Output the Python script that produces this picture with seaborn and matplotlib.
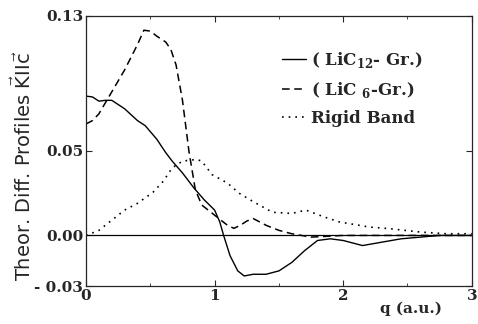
import numpy as np
import pandas as pd
import matplotlib
matplotlib.use('Agg')
import matplotlib.pyplot as plt
import seaborn as sns
from matplotlib.ticker import MultipleLocator

# values
q_lic12 = [0.0, 0.05, 0.1, 0.15, 0.2, 0.3, 0.4, 0.46, 0.55, 0.62, 0.67, 0.75, 0.84, 0.92, 1.0, 1.04, 1.07,
           1.12, 1.18, 1.23, 1.3, 1.4, 1.5, 1.6, 1.7, 1.8, 1.9, 2.0, 2.15, 2.3, 2.45, 2.6, 2.75, 3.0]
y_lic12 = [0.0825, 0.082, 0.0795, 0.080, 0.080, 0.075, 0.068, 0.065, 0.057, 0.049, 0.044, 0.037, 0.028,
           0.021, 0.015, 0.008, 0.0, -0.012, -0.021, -0.024, -0.023, -0.023, -0.021, -0.016, -0.009,
           -0.003, -0.002, -0.003, -0.006, -0.004, -0.002, -0.001, 0.0, 0.0]

q_lic6 = [0.0, 0.05, 0.1, 0.2, 0.3, 0.4, 0.45, 0.5, 0.55, 0.62, 0.66, 0.7, 0.75, 0.8, 0.85, 0.9,
          1.0, 1.1, 1.15, 1.2, 1.25, 1.3, 1.4, 1.5, 1.6, 1.75, 2.0, 2.5, 3.0]
y_lic6 = [0.066, 0.068, 0.072, 0.085, 0.098, 0.113, 0.1215, 0.121, 0.118, 0.1145, 0.110, 0.101,
          0.080, 0.050, 0.027, 0.018, 0.012, 0.006, 0.0042, 0.006, 0.0085, 0.010, 0.006, 0.003,
          0.001, -0.001, 0.0, 0.0, 0.0]

q_rigid = [0.0, 0.1, 0.2, 0.3, 0.4, 0.52, 0.6, 0.67, 0.75, 0.86, 0.9, 0.98, 1.1, 1.19, 1.3, 1.45,
           1.6, 1.71, 1.85, 1.97, 2.2, 2.36, 2.6, 2.8, 3.0]
y_rigid = [0.0, 0.003, 0.009, 0.015, 0.019, 0.0255, 0.032, 0.040, 0.044, 0.045, 0.044, 0.036,
           0.031, 0.025, 0.020, 0.0137, 0.013, 0.015, 0.011, 0.008, 0.005, 0.004, 0.002, 0.001, 0.001]

sns.set_style('ticks')
plt.rcParams['mathtext.fontset'] = 'custom'
plt.rcParams['mathtext.rm'] = 'DejaVu Serif'
plt.rcParams['mathtext.bf'] = 'DejaVu Serif:bold'
plt.rcParams['mathtext.sf'] = 'DejaVu Sans'

fig = plt.figure(figsize=(4.78, 3.24), dpi=100)
ax = fig.add_axes([0.18, 0.117, 0.807, 0.834])

ax.axhline(0, color='black', lw=0.9)
sns.lineplot(x=q_lic12, y=y_lic12, ax=ax, color='black', lw=1.0, linestyle='-',
             label=r'( LiC$_{\mathbf{12}}$- Gr.)')
sns.lineplot(x=q_lic6, y=y_lic6, ax=ax, color='black', lw=1.1, linestyle=(0, (5, 3)),
             label=r'( LiC $_{\mathbf{6}}$-Gr.)')
sns.lineplot(x=q_rigid, y=y_rigid, ax=ax, color='black', lw=1.2, linestyle=(0, (1, 3)),
             label='Rigid Band')

ax.set_xlim(0, 3)
ax.set_ylim(-0.03, 0.13)
ax.set_xticks([0, 1, 2, 3])
ax.xaxis.set_minor_locator(MultipleLocator(0.5))
ax.set_yticks([-0.03, 0.0, 0.05, 0.13])
ax.set_yticklabels(['- 0.03', '0.00', '0.05', '0.13'])
tick_font = dict(family='DejaVu Serif', weight='bold', size=11)
for lab in ax.get_xticklabels() + ax.get_yticklabels():
    lab.set_fontproperties(matplotlib.font_manager.FontProperties(**tick_font))
ax.tick_params(direction='in', top=True, right=True, length=4, width=0.8, pad=2)
ax.tick_params(which='minor', direction='in', top=True, length=2, width=0.6)
for s in ax.spines.values():
    s.set_linewidth(0.9)

ax.set_ylabel('')
ax.set_xlabel('')
fig.text(0.047, 0.49, r'Theor. Diff. Profiles $\vec{\mathsf{K}}\mathsf{II}\vec{\mathsf{c}}$',
         family='DejaVu Sans', fontsize=14, rotation=90, ha='center', va='center')
fig.text(0.86, 0.035, 'q (a.u.)', family='DejaVu Serif', weight='bold', fontsize=11, ha='center')

leg = ax.legend(loc='upper left', bbox_to_anchor=(0.47, 0.93), frameon=False, handlelength=1.4,
                handletextpad=0.3, labelspacing=0.6,
                prop=dict(family='DejaVu Serif', weight='bold', size=12))

fig.savefig('out.png', dpi=100)
